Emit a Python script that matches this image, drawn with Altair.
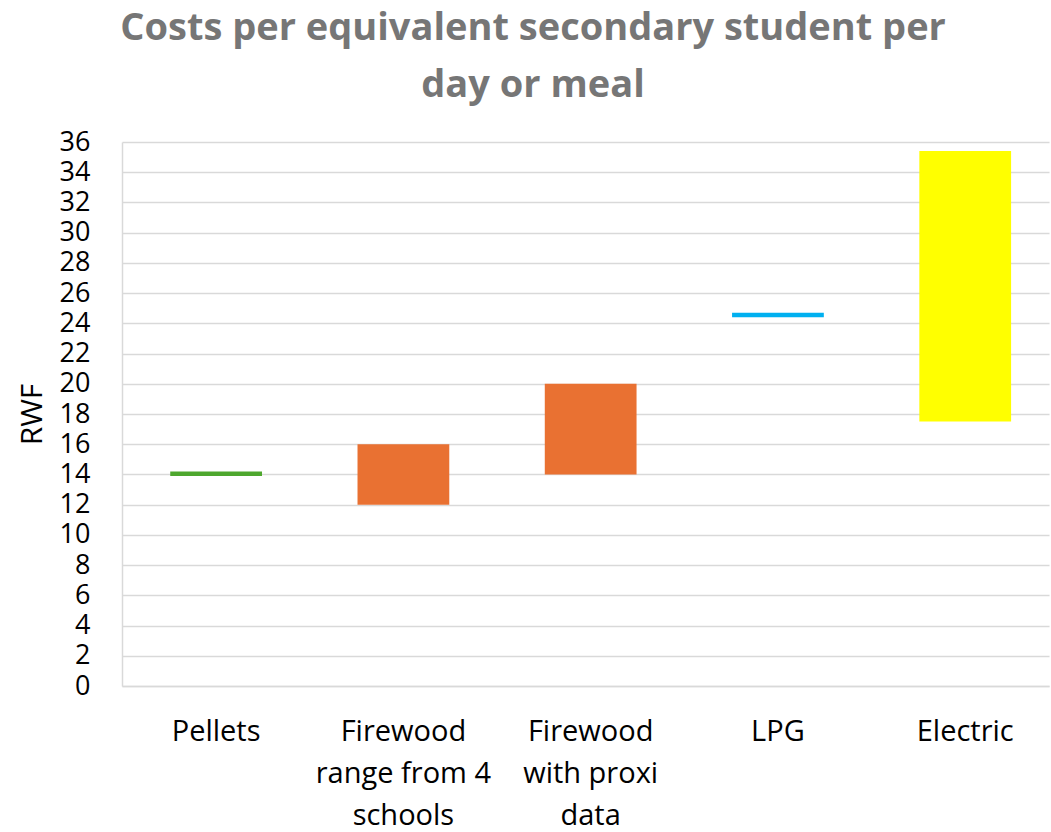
import altair as alt
import pandas as pd

# Fuel options and their cost range (RWF per equivalent secondary student per day or meal)
categories = ["Pellets", "Firewood|range from 4|schools", "Firewood|with proxi|data", "LPG", "Electric"]
low_values = [13.9, 12.0, 14.0, 24.4, 17.5]
high_values = [14.2, 16.0, 20.0, 24.7, 35.4]
bar_colors = ["#4EA72E", "#E97132", "#E97132", "#00B0F0", "#FFFF00"]
y_ticks = list(range(0, 37, 2))

df = pd.DataFrame({"fuel": categories, "low": low_values, "high": high_values})

FONT = "Open Sans"

chart = (
    alt.Chart(df)
    .mark_bar(cornerRadius=0)
    .encode(
        x=alt.X(
            "fuel:N",
            sort=categories,
            scale=alt.Scale(paddingInner=0.51, paddingOuter=0.23, align=0.56),
            axis=alt.Axis(
                title=None,
                labelAngle=0,
                labelExpr="split(datum.label, '|')",
                labelFont=FONT,
                labelFontSize=29,
                labelColor="#000000",
                labelLineHeight=42,
                labelPadding=31,
                labelBaseline="top",
                ticks=False,
                domainColor="#D9D9D9",
                domainWidth=1.5,
                grid=False,
            ),
        ),
        y=alt.Y(
            "low:Q",
            scale=alt.Scale(domain=[0, 36], nice=False),
            axis=alt.Axis(
                title="RWF",
                values=y_ticks,
                labelFont=FONT,
                labelFontSize=27,
                labelColor="#000000",
                labelPadding=32,
                titleFont=FONT,
                titleFontSize=30,
                titleFontWeight="normal",
                titleColor="#000000",
                titlePadding=12,
                ticks=False,
                domainColor="#D9D9D9",
                domainWidth=1.5,
                gridColor="#D9D9D9",
                gridWidth=1.5,
            ),
        ),
        y2="high:Q",
        color=alt.Color(
            "fuel:N",
            scale=alt.Scale(domain=categories, range=bar_colors),
            legend=None,
        ),
    )
    .properties(
        width=927,
        height=544,
        autosize=alt.AutoSizeParams(type="none"),
        padding={"left": 122, "top": 142, "right": 2, "bottom": 146},
        title=alt.TitleParams(
            text=["Costs per equivalent secondary student per", "day or meal"],
            font=FONT,
            fontSize=38,
            fontWeight="bold",
            color="#767676",
            lineHeight=57,
            anchor="middle",
            frame="bounds",
            offset=23,
        ),
    )
    .configure_view(stroke=None)
)

chart.save("out.html", embed_options={"renderer": "svg", "actions": False})
